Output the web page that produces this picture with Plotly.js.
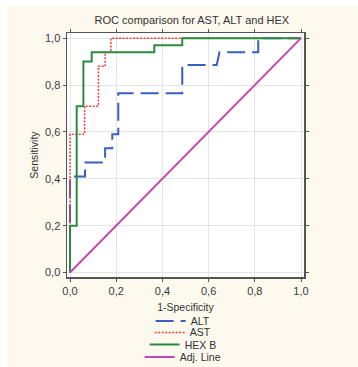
<!DOCTYPE html>
<html>
<head>
<meta charset="utf-8">
<script src="https://cdn.plot.ly/plotly-3.0.1.min.js"></script>
<style>
  html, body { margin: 0; padding: 0; background: #ffffff; }
  #chart { position: absolute; left: 7px; top: 6px; width: 351px; height: 361px; }
</style>
</head>
<body>
<div id="chart"></div>
<script>
// Data
const altX = [0, 0, 0.065, 0.065, 0.152, 0.152, 0.183, 0.183, 0.209, 0.209, 0.486, 0.486, 0.635, 0.647, 0.815, 0.815, 1.0];
const altY = [0, 0.41, 0.41, 0.47, 0.47, 0.53, 0.53, 0.59, 0.59, 0.765, 0.765, 0.885, 0.885, 0.94, 0.94, 1.0, 1.0];

const astX = [0, 0, 0.063, 0.063, 0.123, 0.123, 0.152, 0.152, 0.177, 0.177, 1.0];
const astY = [0, 0.59, 0.59, 0.71, 0.71, 0.88, 0.88, 0.94, 0.94, 1.0, 1.0];

const hexX = [0, 0, 0.029, 0.029, 0.058, 0.058, 0.094, 0.094, 0.365, 0.365, 0.486, 0.486, 1.0];
const hexY = [0, 0.2, 0.2, 0.71, 0.71, 0.90, 0.90, 0.94, 0.94, 0.97, 0.97, 1.0, 1.0];

const adjX = [0, 1];
const adjY = [0, 1];

const seriesNames = ['ALT', 'AST', 'HEX B', 'Adj. Line'];
const tickVals = [0, 0.2, 0.4, 0.6, 0.8, 1.0];

const FONT = 'Liberation Sans, Arial, sans-serif';
const TXT = '#333333';

const traces = [
  { x: altX, y: altY, name: seriesNames[0], mode: 'lines', legend: 'legend',
    line: { color: '#3a5fc2', width: 2, dash: '18px,7px' } },
  { x: astX, y: astY, name: seriesNames[1], mode: 'lines', legend: 'legend2',
    line: { color: '#ff3b3b', width: 1.5, dash: '2px,1.5px' } },
  { x: hexX, y: hexY, name: seriesNames[2], mode: 'lines', legend: 'legend3',
    line: { color: '#2b8c3e', width: 2 } },
  { x: adjX, y: adjY, name: seriesNames[3], mode: 'lines', legend: 'legend4',
    line: { color: '#c548b0', width: 2 } }
];

function leg(y) {
  return { x: 0.49, xanchor: 'center', y: y, yanchor: 'middle',
    bgcolor: 'rgba(0,0,0,0)', borderwidth: 0,
    font: { family: FONT, size: 10.5, color: TXT } };
}

const axisCommon = {
  tickvals: tickVals,
  tickformat: '.1f',
  showgrid: true, gridcolor: '#e4e4e4', gridwidth: 1,
  zeroline: false,
  showline: true, linecolor: '#555555', linewidth: 1.5, mirror: 'ticks',
  ticks: 'outside', ticklen: 3, tickcolor: '#555555', tickwidth: 1,
  tickfont: { family: FONT, size: 11, color: '#3a3a3a' },
  automargin: false,
  fixedrange: true
};

const layout = {
  width: 351, height: 361,
  margin: { l: 60, r: 54, t: 27, b: 90, autoexpand: false },
  paper_bgcolor: '#fdf9ee',
  plot_bgcolor: '#ffffff',
  separators: ', ',
  showlegend: true,
  title: { text: 'ROC comparison for AST, ALT and HEX',
    font: { family: FONT, size: 11, color: TXT },
    x: 0.527, xref: 'paper', xanchor: 'center',
    y: 0.961, yref: 'container', yanchor: 'middle' },
  xaxis: Object.assign({}, axisCommon, {
    range: [-0.013, 1.013],
    title: { text: '1-Specificity', font: { family: FONT, size: 10.5, color: TXT }, standoff: 8 }
  }),
  yaxis: Object.assign({}, axisCommon, {
    range: [-0.019, 1.022],
    title: { text: 'Sensitivity', font: { family: FONT, size: 10.5, color: TXT }, standoff: 4 }
  }),
  legend: leg(-0.180),
  legend2: leg(-0.227),
  legend3: leg(-0.277),
  legend4: leg(-0.328)
};

Plotly.newPlot('chart', traces, layout, { displayModeBar: false, staticPlot: true });
</script>
</body>
</html>
